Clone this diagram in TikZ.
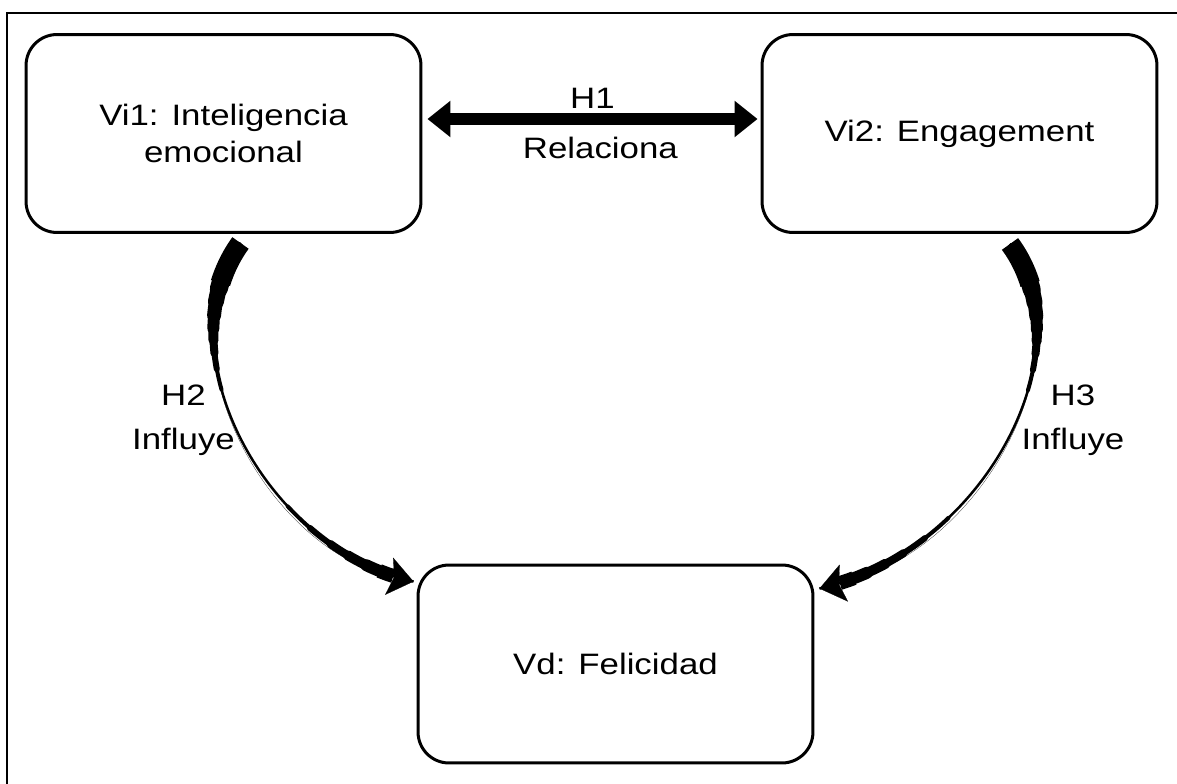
\documentclass[tikz,border=0pt]{standalone}
\usepackage{fontspec}
\setmainfont{Liberation Sans}[FakeStretch=1.18]
\usepackage{tikz}
\usetikzlibrary{arrows.meta,calc}

\tikzset{
  var/.style={draw, line width=0.06cm, rounded corners=0.62cm,
    minimum width=7.9cm, minimum height=3.96cm, align=center},
  lbl/.style={align=center, inner sep=0pt, font=\fontsize{16.8}{25}\selectfont},
  link/.style={line width=0.05cm},
  tip/.style={line width=0.1pt, -{Stealth[length=0.5cm,width=0.76cm,inset=0.1cm]}},
  taper/.style 2 args={line cap=round, dash pattern=on #2cm off 50cm, dash phase=50cm+#2cm-#1cm},
}

\begin{document}
\begin{tikzpicture}[x=0.02cm, y=-0.02cm, font=\fontsize{16.8}{21}\selectfont]
  \useasboundingbox (0,0) rectangle (1177,784);
  \draw[line width=0.04cm] (7,800) -- (7,13) -- (1190,13);

  \node[var] (vi1) at (223.5,133.5) {Vi1: Inteligencia\\emocional};
  \node[var] (vi2) at (959.5,133.5) {Vi2: Engagement};
  \node[var] (vd) at (615.5,664) {Vd: Felicidad};

  % H1
  \draw[line width=0.26cm, {Triangle[length=0.46cm,width=0.7cm]}-{Triangle[length=0.46cm,width=0.7cm]}]
    ($(vi1.east)+(5,-14.5)$) -- node[midway,above=2pt,inner sep=0pt]{H1}
    node[midway,below=6.5pt,inner sep=0pt,xshift=4.5pt]{Relaciona} ($(vi2.west)+(-3,-14.5)$);

  % H2
  \draw[tip] ($(vi1.south)+(17,9)$) .. controls +(-79,109) and +(-148,-32) .. ($(vd.north west)+(-3,18)$);
  \draw[link] ($(vi1.south)+(17,9)$) .. controls +(-79,109) and +(-148,-32) .. ($(vd.north west)+(-3,18)$);
  \draw[line width=0.4cm, dash pattern=on 0.9cm off 50cm]
    ($(vi1.south)+(17,9)$) .. controls +(-79,109) and +(-148,-32) .. ($(vd.north west)+(-3,18)$);
  \foreach \w/\o/\l in {0.36/0.18/0.84, 0.32/0.16/1.12, 0.28/0.14/1.42, 0.24/0.12/1.7, 0.20/0.10/1.96, 0.16/0.08/2.24, 0.12/0.06/2.58, 0.08/0.04/3.02}
    \draw[line width=\w cm, taper={\o}{\l}]
      ($(vi1.south)+(17,9)$) .. controls +(-79,109) and +(-148,-32) .. ($(vd.north west)+(-3,18)$);
  \draw[line width=0.28cm, dash pattern=on 0pt off 0.42cm on 0.3cm off 50cm]
    ($(vd.north west)+(-3,18)$) .. controls +(-148,-32) and +(-79,109) .. ($(vi1.south)+(17,9)$);
  \foreach \w/\o/\l in {0.24/0.54/0.46, 0.20/0.52/0.9, 0.16/0.50/1.34, 0.12/0.48/1.88, 0.08/0.46/2.52}
    \draw[line width=\w cm, taper={\o}{\l}]
      ($(vd.north west)+(-3,18)$) .. controls +(-148,-32) and +(-79,109) .. ($(vi1.south)+(17,9)$);
  \node[lbl] (h2) at (183.5,420) {H2\\Influye};

  % H3
  \draw[tip] ($(vi2.south)+(50.5,10)$) .. controls +(79,107) and +(165,-37) .. ($(vd.north east)+(5,25)$);
  \draw[link] ($(vi2.south)+(50.5,10)$) .. controls +(79,107) and +(165,-37) .. ($(vd.north east)+(5,25)$);
  \draw[line width=0.4cm, dash pattern=on 0.9cm off 50cm]
    ($(vi2.south)+(50.5,10)$) .. controls +(79,107) and +(165,-37) .. ($(vd.north east)+(5,25)$);
  \foreach \w/\o/\l in {0.36/0.18/0.84, 0.32/0.16/1.12, 0.28/0.14/1.42, 0.24/0.12/1.7, 0.20/0.10/1.96, 0.16/0.08/2.24, 0.12/0.06/2.58, 0.08/0.04/3.02}
    \draw[line width=\w cm, taper={\o}{\l}]
      ($(vi2.south)+(50.5,10)$) .. controls +(79,107) and +(165,-37) .. ($(vd.north east)+(5,25)$);
  \draw[line width=0.28cm, dash pattern=on 0pt off 0.42cm on 0.3cm off 50cm]
    ($(vd.north east)+(5,25)$) .. controls +(165,-37) and +(79,107) .. ($(vi2.south)+(50.5,10)$);
  \foreach \w/\o/\l in {0.24/0.54/0.46, 0.20/0.52/0.9, 0.16/0.50/1.34, 0.12/0.48/1.88, 0.08/0.46/2.52}
    \draw[line width=\w cm, taper={\o}{\l}]
      ($(vd.north east)+(5,25)$) .. controls +(165,-37) and +(79,107) .. ($(vi2.south)+(50.5,10)$);
  \node[lbl] (h3) at (1073,420) {H3\\Influye};
\end{tikzpicture}
\end{document}
